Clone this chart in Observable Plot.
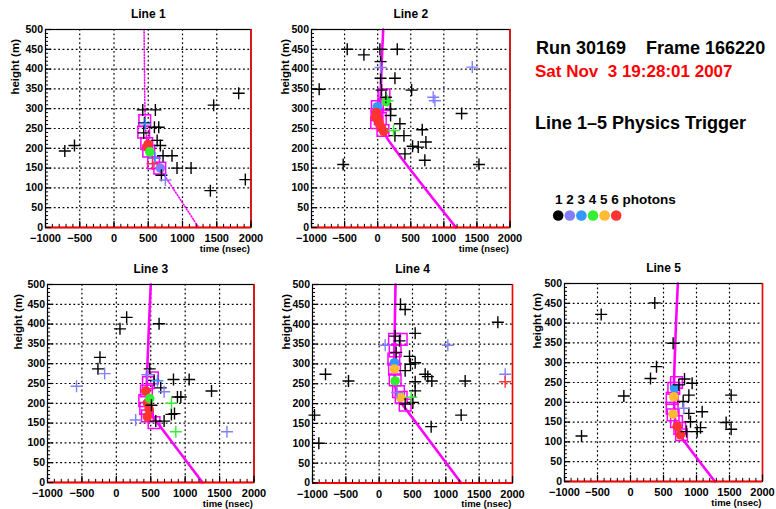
<!DOCTYPE html>
<html><head><meta charset="utf-8">
<script src="https://cdn.jsdelivr.net/npm/d3@7"></script>
<script src="https://cdn.jsdelivr.net/npm/@observablehq/plot@0.6"></script>
<style>
html,body{margin:0;padding:0;background:#fff;}
#root{position:relative;width:776px;height:509px;overflow:hidden;font-family:"Liberation Sans",Arial,Helvetica,sans-serif;font-weight:bold;}
#root svg{position:absolute;}
.hdr{position:absolute;white-space:pre;line-height:1;}
</style></head><body><div id="root"></div>
<script>
// ---------- data ----------
const photonLabels = [1, 2, 3, 4, 5, 6];
const photonColors = ["#000000", "#8080ff", "#3399ff", "#33ee33", "#ffbb33", "#ff3333"];
const panelTitles = ["Line 1", "Line 2", "Line 3", "Line 4", "Line 5"];
const xTickLabels = [-1000, -500, 0, 500, 1000, 1500, 2000];
const yTickLabels = [0, 50, 100, 150, 200, 250, 300, 350, 400, 450, 500];
const headerRun = "Run 30169\u00a0\u00a0\u00a0\u00a0Frame 166220";
const headerDate = "Sat Nov\u00a0\u00a03 19:28:01 2007";
const headerTrigger = "Line 1\u20135 Physics Trigger";
const legendText = "1 2 3 4 5 6 photons";

// hits: [time (nsec), height (m), photons]
const line1Hits = [[-718,193,1],[-577,207,1],[420,297,1],[604,297,1],[444,264,1],[434,239,1],[590,253,1],[653,253,1],[630,220,1],[677,207,1],[716,181,1],[847,181,1],[920,150,1],[1125,150,1],[692,132,1],[1407,93,1],[1455,309,1],[1820,339,1],[1917,121,1],[750,120,2],[455,262,3],[600,175,3],[561,161,6]];
const line1Fit = [[497,210,6],[483,203,6],[522,191,4],[677,150,2]];
const line1Squares = [[449,270],[434,241],[478,212],[507,193],[578,163],[668,150]];
const line1Track = [[439,500],[445,400],[452,300],[462,250],[490,212],[540,186],[620,162],[700,141],[750,128],[1237,0]];

const line2Hits = [[-884,349,1],[-460,450,1],[-208,436,1],[34,450,1],[44,419,1],[44,377,1],[296,450,1],[261,377,1],[513,347,1],[59,347,1],[124,329,1],[195,299,1],[195,283,1],[336,262,1],[261,232,1],[397,232,1],[412,186,1],[528,205,1],[613,203,1],[729,216,1],[674,247,1],[713,170,1],[1269,288,1],[1531,159,1],[-521,159,1],[1430,405,2],[840,329,2],[865,320,2],[44,404,2],[240,245,4],[150,320,4]];
const line2Fit = [[130,318,4],[-5,305,3],[-20,290,6],[-35,278,6],[10,272,6],[25,262,6],[55,252,6],[90,243,6]];
const line2Squares = [[-5,305],[-10,285],[-15,265],[95,335],[95,310],[80,245],[40,275]];
const line2Track = [[84,500],[62,420],[48,350],[42,300],[55,265],[90,245],[134,228],[1183,0]];

const line3Hits = [[150,417,1],[53,388,1],[621,401,1],[-238,316,1],[-267,287,1],[485,287,1],[548,258,1],[830,260,1],[1058,260,1],[1383,231,1],[645,239,1],[888,216,1],[937,216,1],[800,172,1],[845,174,1],[694,155,1],[573,155,1],[510,195,1],[-578,243,2],[-170,275,2],[281,158,2],[1607,128,2],[694,229,2],[451,272,2],[597,257,3],[864,128,4],[801,200,4]];
const line3Fit = [[427,231,6],[451,201,6],[476,185,6],[451,166,6],[485,212,4]];
const line3Squares = [[524,264],[466,252],[437,231],[413,207],[427,187],[451,168],[548,151]];
const line3Track = [[500,500],[475,400],[452,300],[445,250],[455,210],[490,180],[545,163],[597,151],[1252,0]];

const line4Hits = [[320,450,1],[390,437,1],[1780,405,1],[540,377,1],[240,370,1],[305,358,1],[255,329,1],[455,319,1],[470,299,1],[540,303,1],[390,283,1],[-805,274,1],[-460,257,1],[690,274,1],[730,268,1],[790,257,1],[1290,257,1],[540,255,1],[540,232,1],[505,203,1],[390,199,1],[1230,171,1],[780,142,1],[-970,171,1],[-905,100,1],[90,347,2],[1030,347,2],[1890,274,2],[270,228,2],[480,216,4],[1890,255,6]];
const line4Fit = [[230,303,3],[230,287,5],[240,257,4],[320,216,5]];
const line4Squares = [[230,362],[330,362],[240,333],[220,312],[230,287],[240,260],[290,230],[330,216],[390,196]];
const line4Track = [[245,500],[235,400],[228,330],[230,280],[245,240],[290,212],[380,191],[1230,0]];

const line5Hits = [[368,451,1],[-444,422,1],[646,349,1],[394,290,1],[303,260,1],[-101,216,1],[-742,115,1],[732,244,1],[818,259,1],[934,248,1],[884,218,1],[798,202,1],[884,172,1],[1086,176,1],[909,151,1],[1061,136,1],[1010,126,1],[848,126,1],[1449,149,1],[1525,132,1],[1525,218,1],[808,185,2]];
const line5Fit = [[667,235,3],[656,214,5],[646,170,5],[707,139,6],[757,118,6]];
const line5Squares = [[697,250],[656,235],[631,210],[631,185],[646,168],[697,151],[747,134],[773,118]];
const line5Track = [[717,500],[690,400],[668,300],[660,250],[660,200],[672,160],[700,135],[745,118],[808,103],[1278,0]];

// ---------- layout ----------
const root = document.getElementById("root");
const panelHits = [line1Hits, line2Hits, line3Hits, line4Hits, line5Hits];
const panelFit = [line1Fit, line2Fit, line3Fit, line4Fit, line5Fit];
const panelSquares = [line1Squares, line2Squares, line3Squares, line4Squares, line5Squares];
const panelTracks = [line1Track, line2Track, line3Track, line4Track, line5Track];
// frame pixel boxes [left, right, top, bottom]
const frames = [[45,250.5,28.5,226.5],[311,509.5,28.5,226.5],[47,253.5,284,482],[311.5,511.5,283.5,482],[564,762,283,481]];
const yTitleOffset = [-30,-26,-29,-26.5,-27];

const xGrid = xTickLabels.slice(1, -1);
const yGrid = yTickLabels.slice(1, -1);
const xMinor = d3.range(-1000, 2001, 100);
const yMinor = d3.range(0, 501, 10);
const fmtX = d => d < 0 ? "\u2212" + Math.abs(d) : String(d);
const plusSymbol = {draw(ctx, size) {const r = Math.sqrt(size / Math.PI); ctx.moveTo(-r, 0); ctx.lineTo(r, 0); ctx.moveTo(0, -r); ctx.lineTo(0, r);}};
const FONT = "'Liberation Sans', Arial, Helvetica, sans-serif";

function buildPanel(i) {
  const [fx0, fx1, fy0, fy1] = frames[i];
  const mL = 50, mR = 20, mT = 32, mB = 32;
  const W = fx1 - fx0, H = fy1 - fy0;
  const dashed = i === 0;
  const svg = Plot.plot({
    width: W + mL + mR, height: H + mT + mB,
    marginLeft: mL, marginRight: mR, marginTop: mT, marginBottom: mB,
    style: {background: "transparent", overflow: "visible", fontFamily: FONT},
    x: {domain: [-1000, 2000], axis: null},
    y: {domain: [0, 500], axis: null},
    color: {type: "ordinal", domain: photonLabels, range: photonColors},
    marks: [
      Plot.ruleX(xGrid, {stroke: "black", strokeWidth: 1.2, strokeDasharray: "1.8,2.6"}),
      Plot.ruleY(yGrid, {stroke: "black", strokeWidth: 1.2, strokeDasharray: "1.8,2.6"}),
      Plot.line(panelTracks[i], {x: d => d[0], y: d => d[1], stroke: "#ff00ff", strokeWidth: dashed ? 1.6 : 2.6, strokeDasharray: dashed ? "1,1.8" : null, curve: "catmull-rom"}),
      Plot.dot(panelSquares[i], {x: d => d[0], y: d => d[1], symbol: "square", r: 6.6, fill: "none", stroke: "#ff00ff", strokeWidth: 1.5}),
      Plot.dot(panelFit[i], {x: d => d[0], y: d => d[1], r: 4.8, fill: d => d[2]}),
      Plot.dot(panelHits[i], {x: d => d[0], y: d => d[1], stroke: d => d[2], symbol: plusSymbol, r: 6, fill: "none", strokeWidth: 1.4}),
      Plot.frame({stroke: "black", strokeWidth: 1.2}),
      Plot.ruleY([0], {stroke: "#ff0000", strokeWidth: 2}),
      Plot.ruleX([2000], {stroke: "#ff0000", strokeWidth: 1.5}),
      Plot.ruleX(xMinor, {y1: 0, y2: 8, stroke: "black", strokeWidth: 1}),
      Plot.ruleX(xTickLabels, {y1: 0, y2: 16, stroke: "black", strokeWidth: 1.2}),
      Plot.ruleY(yMinor, {x1: -1000, x2: -955, stroke: "black", strokeWidth: 1}),
      Plot.ruleY(yTickLabels, {x1: -1000, x2: -910, stroke: "black", strokeWidth: 1.2}),
      Plot.text(xTickLabels, {x: d => d, y: 0, text: fmtX, dy: 11, lineAnchor: "middle", fontSize: 11, fontWeight: "bold", fill: "black"}),
      Plot.text(yTickLabels, {x: -1000, y: d => d, text: d => String(d), textAnchor: "end", lineAnchor: "middle", dx: -2.5, fontSize: 10.5, fontWeight: "bold", fill: "black"}),
      Plot.text([panelTitles[i]], {x: 500, y: 500, text: d => d, dy: -15, lineAnchor: "middle", fontSize: 12, fontWeight: "bold", fill: "black"}),
      Plot.text(["height (m)"], {x: -1000, y: 500, text: d => d, rotate: -90, textAnchor: "end", lineAnchor: "middle", dx: yTitleOffset[i], dy: 9.5, fontSize: 11.5, fontWeight: "bold", fill: "black"}),
      Plot.text(["time (nsec)"], {x: 2000, y: 0, text: d => d, textAnchor: "end", lineAnchor: "middle", dx: -1, dy: 21, fontSize: 9.5, fontWeight: "bold", fill: "black"})
    ]
  });
  svg.style.left = (fx0 - mL) + "px";
  svg.style.top = (fy0 - mT) + "px";
  root.appendChild(svg);
}
for (let i = 0; i < 5; i++) buildPanel(i);

// header texts
function hdr(text, left, centerY, size, color) {
  const d = document.createElement("div");
  d.className = "hdr";
  d.textContent = text;
  d.style.left = left + "px";
  d.style.top = (centerY - 0.4865 * size) + "px";
  d.style.fontSize = size + "px";
  d.style.color = color;
  root.appendChild(d);
}
hdr(headerRun, 536, 47.3, 18, "#000");
hdr(headerDate, 535, 71.7, 17, "#ff0000");
hdr(headerTrigger, 535, 122.3, 18, "#000");

// photon legend
const legend = Plot.plot({
  width: 160, height: 45, marginLeft: 0, marginRight: 0, marginTop: 15, marginBottom: 0,
  style: {background: "transparent", overflow: "visible", fontFamily: FONT},
  x: {domain: [1, 6], range: [17.7, 75.7], axis: null},
  color: {type: "ordinal", domain: photonLabels, range: photonColors},
  marks: [
    Plot.dot(photonLabels, {x: d => d, fill: d => d, r: 5.3}),
    Plot.text([legendText], {x: 1, text: d => d, frameAnchor: "top", textAnchor: "start", lineAnchor: "middle", dx: -3.3, dy: -1, fontSize: 13.5, fontWeight: "bold", fill: "black"})
  ]
});
legend.style.left = "540px";
legend.style.top = "185px";
root.appendChild(legend);
</script></body></html>
